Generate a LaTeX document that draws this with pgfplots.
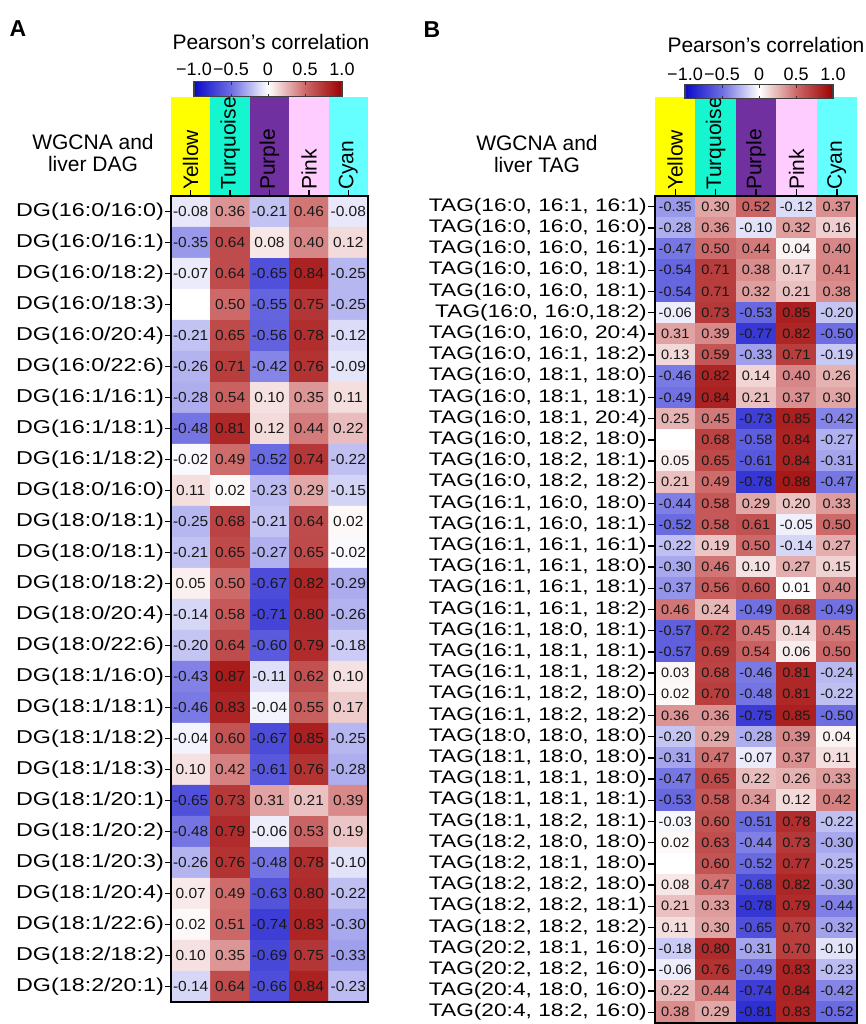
\documentclass[border=0pt]{standalone}
\usepackage{fontspec}
\setmainfont{Liberation Sans}
\usepackage{pgfplots}
\usepackage{pgfplotstable}
\pgfplotsset{compat=1.18}
\usetikzlibrary{calc}

\definecolor{hYellow}{RGB}{255,255,0}
\definecolor{hTurq}{RGB}{20,245,208}
\definecolor{hPurple}{RGB}{112,48,160}
\definecolor{hPink}{RGB}{255,204,255}
\definecolor{hCyan}{RGB}{102,255,255}

\tikzset{hdrtext/.style={rotate=90, anchor=west, inner sep=0pt, font=\fontsize{21}{21}\selectfont}}

\pgfplotsset{
  colormap={corr}{rgb255=(10,10,200) rgb255=(110,110,226) rgb255=(255,255,255) rgb255=(205,105,105) rgb255=(155,0,0)},
  heat/.style={
    scale only axis, xmin=-0.5, xmax=4.5, y dir=reverse,
    enlargelimits=false, axis on top, clip=false,
    colormap name=corr, point meta min=-1, point meta max=1,
    xtick={0,...,4}, xticklabels={}, xtick pos=right, ytick pos=left,
    tick align=outside,
    axis line style={line width=1.8pt, black},
    major tick style={line width=1.4pt, black},
    yticklabel style={inner sep=1pt, yscale=0.8, text=black},
  },
  cbar/.style={
    width=148pt, scale only axis,
    xtick={-1,-0.5,0,0.5,1}, xticklabels={−1.0,−0.5,0,0.5,1.0},
    xticklabel pos=upper, xtick align=inside, major tick length=3pt,
    major tick style={line width=1pt, black!80},
    axis line style={line width=1.2pt, black!75},
    xticklabel style={font=\fontsize{18}{18}\selectfont, anchor=base},
    title={Pearson’s correlation},
  },
}

% Panel A: x = module column, y = lipid row, v = Pearson r
\pgfplotstableread{
x y v
0 0 -0.08
1 0 0.36
2 0 -0.21
3 0 0.46
4 0 -0.08
0 1 -0.35
1 1 0.64
2 1 0.08
3 1 0.40
4 1 0.12
0 2 -0.07
1 2 0.64
2 2 -0.65
3 2 0.84
4 2 -0.25
0 3 0
1 3 0.50
2 3 -0.55
3 3 0.75
4 3 -0.25
0 4 -0.21
1 4 0.65
2 4 -0.56
3 4 0.78
4 4 -0.12
0 5 -0.26
1 5 0.71
2 5 -0.42
3 5 0.76
4 5 -0.09
0 6 -0.28
1 6 0.54
2 6 0.10
3 6 0.35
4 6 0.11
0 7 -0.48
1 7 0.81
2 7 0.12
3 7 0.44
4 7 0.22
0 8 -0.02
1 8 0.49
2 8 -0.52
3 8 0.74
4 8 -0.22
0 9 0.11
1 9 0.02
2 9 -0.23
3 9 0.29
4 9 -0.15
0 10 -0.25
1 10 0.68
2 10 -0.21
3 10 0.64
4 10 0.02
0 11 -0.21
1 11 0.65
2 11 -0.27
3 11 0.65
4 11 -0.02
0 12 0.05
1 12 0.50
2 12 -0.67
3 12 0.82
4 12 -0.29
0 13 -0.14
1 13 0.58
2 13 -0.71
3 13 0.80
4 13 -0.26
0 14 -0.20
1 14 0.64
2 14 -0.60
3 14 0.79
4 14 -0.18
0 15 -0.43
1 15 0.87
2 15 -0.11
3 15 0.62
4 15 0.10
0 16 -0.46
1 16 0.83
2 16 -0.04
3 16 0.55
4 16 0.17
0 17 -0.04
1 17 0.60
2 17 -0.67
3 17 0.85
4 17 -0.25
0 18 0.10
1 18 0.42
2 18 -0.61
3 18 0.76
4 18 -0.28
0 19 -0.65
1 19 0.73
2 19 0.31
3 19 0.21
4 19 0.39
0 20 -0.48
1 20 0.79
2 20 -0.06
3 20 0.53
4 20 0.19
0 21 -0.26
1 21 0.76
2 21 -0.48
3 21 0.78
4 21 -0.10
0 22 0.07
1 22 0.49
2 22 -0.63
3 22 0.80
4 22 -0.22
0 23 0.02
1 23 0.51
2 23 -0.74
3 23 0.83
4 23 -0.30
0 24 0.10
1 24 0.35
2 24 -0.69
3 24 0.75
4 24 -0.33
0 25 -0.14
1 25 0.64
2 25 -0.66
3 25 0.84
4 25 -0.23
}\dataA

% Panel B
\pgfplotstableread{
x y v
0 0 -0.35
1 0 0.30
2 0 0.52
3 0 -0.12
4 0 0.37
0 1 -0.28
1 1 0.36
2 1 -0.10
3 1 0.32
4 1 0.16
0 2 -0.47
1 2 0.50
2 2 0.44
3 2 0.04
4 2 0.40
0 3 -0.54
1 3 0.71
2 3 0.38
3 3 0.17
4 3 0.41
0 4 -0.54
1 4 0.71
2 4 0.32
3 4 0.21
4 4 0.38
0 5 -0.06
1 5 0.73
2 5 -0.53
3 5 0.85
4 5 -0.20
0 6 0.31
1 6 0.39
2 6 -0.77
3 6 0.82
4 6 -0.50
0 7 0.13
1 7 0.59
2 7 -0.33
3 7 0.71
4 7 -0.19
0 8 -0.46
1 8 0.82
2 8 0.14
3 8 0.40
4 8 0.26
0 9 -0.49
1 9 0.84
2 9 0.21
3 9 0.37
4 9 0.30
0 10 0.25
1 10 0.45
2 10 -0.73
3 10 0.85
4 10 -0.42
0 11 0
1 11 0.68
2 11 -0.58
3 11 0.84
4 11 -0.27
0 12 0.05
1 12 0.65
2 12 -0.61
3 12 0.84
4 12 -0.31
0 13 0.21
1 13 0.49
2 13 -0.78
3 13 0.88
4 13 -0.47
0 14 -0.44
1 14 0.58
2 14 0.29
3 14 0.20
4 14 0.33
0 15 -0.52
1 15 0.58
2 15 0.61
3 15 -0.05
4 15 0.50
0 16 -0.22
1 16 0.19
2 16 0.50
3 16 -0.14
4 16 0.27
0 17 -0.30
1 17 0.46
2 17 0.10
3 17 0.27
4 17 0.15
0 18 -0.37
1 18 0.56
2 18 0.60
3 18 0.01
4 18 0.40
0 19 0.46
1 19 0.24
2 19 -0.49
3 19 0.68
4 19 -0.49
0 20 -0.57
1 20 0.72
2 20 0.45
3 20 0.14
4 20 0.45
0 21 -0.57
1 21 0.69
2 21 0.54
3 21 0.06
4 21 0.50
0 22 0.03
1 22 0.68
2 22 -0.46
3 22 0.81
4 22 -0.24
0 23 0.02
1 23 0.70
2 23 -0.48
3 23 0.81
4 23 -0.22
0 24 0.36
1 24 0.36
2 24 -0.75
3 24 0.85
4 24 -0.50
0 25 -0.20
1 25 0.29
2 25 -0.28
3 25 0.39
4 25 0.04
0 26 -0.31
1 26 0.47
2 26 -0.07
3 26 0.37
4 26 0.11
0 27 -0.47
1 27 0.65
2 27 0.22
3 27 0.26
4 27 0.33
0 28 -0.53
1 28 0.58
2 28 0.34
3 28 0.12
4 28 0.42
0 29 -0.03
1 29 0.60
2 29 -0.51
3 29 0.78
4 29 -0.22
0 30 0.02
1 30 0.63
2 30 -0.44
3 30 0.73
4 30 -0.30
0 31 0
1 31 0.60
2 31 -0.52
3 31 0.77
4 31 -0.25
0 32 0.08
1 32 0.47
2 32 -0.68
3 32 0.82
4 32 -0.30
0 33 0.21
1 33 0.33
2 33 -0.78
3 33 0.79
4 33 -0.44
0 34 0.11
1 34 0.30
2 34 -0.65
3 34 0.70
4 34 -0.32
0 35 -0.18
1 35 0.80
2 35 -0.31
3 35 0.70
4 35 -0.10
0 36 -0.06
1 36 0.76
2 36 -0.49
3 36 0.83
4 36 -0.23
0 37 0.22
1 37 0.44
2 37 -0.74
3 37 0.84
4 37 -0.42
0 38 0.38
1 38 0.29
2 38 -0.81
3 38 0.83
4 38 -0.52
}\dataB

\begin{document}
\begin{tikzpicture}
\useasboundingbox (0pt,0pt) rectangle (866pt,-1024pt);
\clip (0pt,0pt) rectangle (866pt,-1024pt);

\node[font=\fontsize{23}{23}\selectfont\bfseries] at (18pt,-29pt) {A};
\node[font=\fontsize{23}{23}\selectfont\bfseries] at (432pt,-30pt) {B};
\node[font=\fontsize{21}{22}\selectfont, align=center] at (93pt,-153pt) {WGCNA and\\liver DAG};
\node[font=\fontsize{21}{22}\selectfont, align=center] at (537pt,-154pt) {WGCNA and\\liver TAG};

% ---------------- Panel A ----------------
\begin{axis}[heat,
  at={(171pt,-196pt)}, anchor=north west,
  width=197pt, height=806pt,
  ymin=-0.5, ymax=25.5,
  ytick={0,...,25}, major tick length=6pt,
  yticklabel style={font=\fontsize{23.3}{24}\selectfont},
  yticklabels={DG(16:0/16:0),DG(16:0/16:1),DG(16:0/18:2),DG(16:0/18:3),DG(16:0/20:4),DG(16:0/22:6),DG(16:1/16:1),DG(16:1/18:1),DG(16:1/18:2),DG(18:0/16:0),DG(18:0/18:1),DG(18:0/18:1),DG(18:0/18:2),DG(18:0/20:4),DG(18:0/22:6),DG(18:1/16:0),DG(18:1/18:1),DG(18:1/18:2),DG(18:1/18:3),DG(18:1/20:1),DG(18:1/20:2),DG(18:1/20:3),DG(18:1/20:4),DG(18:1/22:6),DG(18:2/18:2),DG(18:2/20:1)},
  colorbar horizontal,
  colorbar style={cbar,
    at={($(parent axis.north west)+(23pt,108pt)$)}, anchor=south west,
    height=15pt,
    xticklabel style={yshift=6pt},
    title style={font=\fontsize{21}{21}\selectfont, at={(0.5,1)}, anchor=center, yshift=34pt, xshift=3pt},
  },
]
\addplot[matrix plot*, shader=flat corner, mesh/cols=5, point meta=explicit]
  table[x=x, y=y, meta=v] {\dataA};
\addplot[only marks, mark=*, mark size=0pt, mark options={draw=none, fill=none},
  nodes near coords, point meta=explicit symbolic,
  nodes near coords align={center},
  every node near coord/.append style={anchor=center, font=\fontsize{15.5}{15.5}\selectfont, yscale=0.94, text=black!90, inner sep=0pt},
  skip coords between index={15}{16}]
  table[x=x, y=y, meta=v] {\dataA};
\fill[hYellow] (axis cs:-0.5,-0.5) rectangle ([yshift=99pt]axis cs:0.5,-0.5);
\fill[hTurq] (axis cs:0.5,-0.5) rectangle ([yshift=99pt]axis cs:1.5,-0.5);
\fill[hPurple] (axis cs:1.5,-0.5) rectangle ([yshift=99pt]axis cs:2.5,-0.5);
\fill[hPink] (axis cs:2.5,-0.5) rectangle ([yshift=99pt]axis cs:3.5,-0.5);
\fill[hCyan] (axis cs:3.5,-0.5) rectangle ([yshift=99pt]axis cs:4.5,-0.5);
\node[hdrtext] at ([yshift=6pt]axis cs:0,-0.5) {Yellow};
\node[hdrtext] at ([yshift=6pt]axis cs:1,-0.5) {Turquoise};
\node[hdrtext] at ([yshift=6pt]axis cs:2,-0.5) {Purple};
\node[hdrtext] at ([yshift=6pt]axis cs:3,-0.5) {Pink};
\node[hdrtext] at ([yshift=6pt]axis cs:4,-0.5) {Cyan};
\end{axis}

% ---------------- Panel B ----------------
\begin{axis}[heat,
  at={(655pt,-196pt)}, anchor=north west,
  width=202pt, height=826.8pt,
  ymin=-0.5, ymax=38.5,
  ytick={0,...,38}, major tick length=7pt,
  yticklabel style={font=\fontsize{22.7}{23}\selectfont},
  yticklabels={{TAG(16:0, 16:1, 16:1)},{TAG(16:0, 16:0, 16:0)},{TAG(16:0, 16:0, 16:1)},{TAG(16:0, 16:0, 18:1)},{TAG(16:0, 16:0, 18:1)},{TAG(16:0, 16:0,18:2)},{TAG(16:0, 16:0, 20:4)},{TAG(16:0, 16:1, 18:2)},{TAG(16:0, 18:1, 18:0)},{TAG(16:0, 18:1, 18:1)},{TAG(16:0, 18:1, 20:4)},{TAG(16:0, 18:2, 18:0)},{TAG(16:0, 18:2, 18:1)},{TAG(16:0, 18:2, 18:2)},{TAG(16:1, 16:0, 18:0)},{TAG(16:1, 16:0, 18:1)},{TAG(16:1, 16:1, 16:1)},{TAG(16:1, 16:1, 18:0)},{TAG(16:1, 16:1, 18:1)},{TAG(16:1, 16:1, 18:2)},{TAG(16:1, 18:0, 18:1)},{TAG(16:1, 18:1, 18:1)},{TAG(16:1, 18:1, 18:2)},{TAG(16:1, 18:2, 18:0)},{TAG(16:1, 18:2, 18:2)},{TAG(18:0, 18:0, 18:0)},{TAG(18:1, 18:0, 18:0)},{TAG(18:1, 18:1, 18:0)},{TAG(18:1, 18:1, 18:1)},{TAG(18:1, 18:2, 18:1)},{TAG(18:2, 18:0, 18:0)},{TAG(18:2, 18:1, 18:0)},{TAG(18:2, 18:2, 18:0)},{TAG(18:2, 18:2, 18:1)},{TAG(18:2, 18:2, 18:2)},{TAG(20:2, 18:1, 16:0)},{TAG(20:2, 18:2, 16:0)},{TAG(20:4, 18:0, 16:0)},{TAG(20:4, 18:2, 16:0)}},
  colorbar horizontal,
  colorbar style={cbar,
    at={($(parent axis.north west)+(30pt,106pt)$)}, anchor=south west,
    height=14pt,
    xticklabel style={yshift=4pt},
    title style={font=\fontsize{21}{21}\selectfont, at={(0.5,1)}, anchor=center, yshift=34pt, xshift=7pt},
  },
]
\addplot[matrix plot*, shader=flat corner, mesh/cols=5, point meta=explicit]
  table[x=x, y=y, meta=v] {\dataB};
\addplot[only marks, mark=*, mark size=0pt, mark options={draw=none, fill=none},
  nodes near coords, point meta=explicit symbolic,
  nodes near coords align={center},
  every node near coord/.append style={anchor=center, font=\fontsize{14.5}{14.5}\selectfont, yscale=0.94, text=black!90, inner sep=0pt},
  skip coords between index={55}{56}, skip coords between index={155}{156}]
  table[x=x, y=y, meta=v] {\dataB};
\fill[hYellow] (axis cs:-0.5,-0.5) rectangle ([yshift=99pt]axis cs:0.5,-0.5);
\fill[hTurq] (axis cs:0.5,-0.5) rectangle ([yshift=99pt]axis cs:1.5,-0.5);
\fill[hPurple] (axis cs:1.5,-0.5) rectangle ([yshift=99pt]axis cs:2.5,-0.5);
\fill[hPink] (axis cs:2.5,-0.5) rectangle ([yshift=99pt]axis cs:3.5,-0.5);
\fill[hCyan] (axis cs:3.5,-0.5) rectangle ([yshift=99pt]axis cs:4.5,-0.5);
\node[hdrtext] at ([yshift=6pt]axis cs:0,-0.5) {Yellow};
\node[hdrtext] at ([yshift=6pt]axis cs:1,-0.5) {Turquoise};
\node[hdrtext] at ([yshift=6pt]axis cs:2,-0.5) {Purple};
\node[hdrtext] at ([yshift=6pt]axis cs:3,-0.5) {Pink};
\node[hdrtext] at ([yshift=6pt]axis cs:4,-0.5) {Cyan};
\end{axis}
\end{tikzpicture}
\end{document}
